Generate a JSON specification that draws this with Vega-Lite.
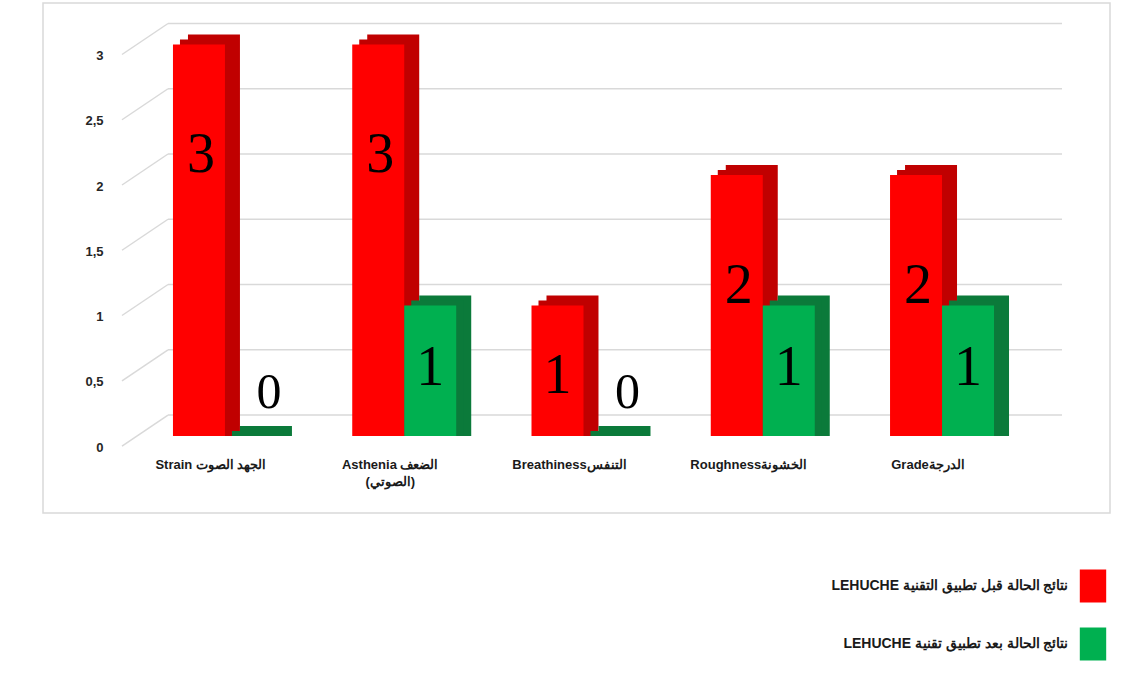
{
  "$schema": "https://vega.github.io/schema/vega-lite/v6.json",
  "width": 1067,
  "height": 510,
  "autosize": {"type": "none"},
  "padding": {"left": 43, "top": 3, "right": 35, "bottom": 162},
  "background": "white",
  "config": {
    "view": {"stroke": "#d9d9d9", "strokeWidth": 1.5},
    "font": "Liberation Sans"
  },
  "datasets": {
    "scores": [
      {"cat": "Strain الجهد الصوت", "phase": "LEHUCHE نتائج الحالة قبل تطبيق التقنية", "v": 3},
      {"cat": "Strain الجهد الصوت", "phase": "LEHUCHE نتائج الحالة بعد تطبيق تقنية", "v": 0},
      {"cat": "Asthenia الضعف|(الصوتي)", "phase": "LEHUCHE نتائج الحالة قبل تطبيق التقنية", "v": 3},
      {"cat": "Asthenia الضعف|(الصوتي)", "phase": "LEHUCHE نتائج الحالة بعد تطبيق تقنية", "v": 1},
      {"cat": "Breathinessالتنفس", "phase": "LEHUCHE نتائج الحالة قبل تطبيق التقنية", "v": 1},
      {"cat": "Breathinessالتنفس", "phase": "LEHUCHE نتائج الحالة بعد تطبيق تقنية", "v": 0},
      {"cat": "Roughnessالخشونة", "phase": "LEHUCHE نتائج الحالة قبل تطبيق التقنية", "v": 2},
      {"cat": "Roughnessالخشونة", "phase": "LEHUCHE نتائج الحالة بعد تطبيق تقنية", "v": 1},
      {"cat": "Gradeالدرجة", "phase": "LEHUCHE نتائج الحالة قبل تطبيق التقنية", "v": 2},
      {"cat": "Gradeالدرجة", "phase": "LEHUCHE نتائج الحالة بعد تطبيق تقنية", "v": 1}
    ],
    "grid": [
      {"v": 0}, {"v": 0.5}, {"v": 1}, {"v": 1.5}, {"v": 2}, {"v": 2.5}, {"v": 3}
    ]
  },
  "encoding": {
    "y": {
      "field": "v",
      "type": "quantitative",
      "scale": {"domain": [-0.59, 3.318], "nice": false, "zero": false},
      "axis": {
        "title": null,
        "values": [0, 0.5, 1, 1.5, 2, 2.5, 3],
        "grid": false,
        "domain": false,
        "ticks": false,
        "offset": -79,
        "labelPadding": 19,
        "labelOffset": 11,
        "labelExpr": "replace(format(datum.value, '~g'), '.', ',')",
        "labelFont": "Liberation Sans",
        "labelFontWeight": "bold",
        "labelFontSize": 13,
        "labelColor": "#262626"
      }
    }
  },
  "layer": [
    {
      "data": {"name": "grid"},
      "mark": {"type": "rule", "color": "#d9d9d9", "strokeWidth": 1.5, "xOffset": 125, "x2Offset": -48, "yOffset": -21},
      "encoding": {
        "x": {"value": 0},
        "x2": {"value": {"expr": "width"}}
      }
    },
    {
      "data": {"name": "grid"},
      "mark": {"type": "rule", "color": "#d9d9d9", "strokeWidth": 1.5, "xOffset": 79, "x2Offset": 125, "yOffset": 10, "y2Offset": -21},
      "encoding": {
        "x": {"value": 0},
        "x2": {"value": 0},
        "y2": {"field": "v"}
      }
    },
    {
      "data": {"name": "scores"},
      "encoding": {
        "x": {
          "field": "cat",
          "type": "nominal",
          "sort": null,
          "scale": {"paddingInner": 0, "paddingOuter": 0.476, "align": 0.541},
          "axis": {
            "title": null,
            "domain": false,
            "ticks": false,
            "offset": -60,
            "labelPadding": 5,
            "labelOffset": -14,
            "labelAngle": 0,
            "labelBaseline": "top",
            "labelLineHeight": 17,
            "labelLimit": 220,
            "labelExpr": "split(datum.label, '|')",
            "labelFont": "Liberation Sans",
            "labelFontWeight": "bold",
            "labelFontSize": 13,
            "labelColor": "#1a1a1a"
          }
        }
      },
      "layer": [
        {
          "transform": [{"filter": "indexof(datum.phase, 'قبل') >= 0"}],
          "mark": {"type": "bar", "color": "#C00000", "width": {"band": 0.29}, "xOffset": -11, "yOffset": -10, "y2Offset": 0},
          "encoding": {"y2": {"datum": 0}}
        },
        {
          "transform": [{"filter": "indexof(datum.phase, 'قبل') >= 0"}],
          "mark": {"type": "bar", "color": "#C00000", "width": {"band": 0.29}, "xOffset": -19, "yOffset": -5, "y2Offset": 0},
          "encoding": {"y2": {"datum": 0}}
        },
        {
          "transform": [{"filter": "indexof(datum.phase, 'بعد') >= 0"}],
          "mark": {"type": "bar", "color": "#0B7A3A", "width": {"band": 0.29}, "xOffset": 41, "yOffset": -10, "y2Offset": 0},
          "encoding": {"y2": {"datum": 0}}
        },
        {
          "transform": [{"filter": "indexof(datum.phase, 'بعد') >= 0"}],
          "mark": {"type": "bar", "color": "#0B7A3A", "width": {"band": 0.29}, "xOffset": 33, "yOffset": -5, "y2Offset": 0},
          "encoding": {"y2": {"datum": 0}}
        },
        {
          "transform": [{"filter": "indexof(datum.phase, 'قبل') >= 0"}],
          "mark": {"type": "bar", "width": {"band": 0.29}, "xOffset": -26},
          "encoding": {
            "y2": {"datum": 0},
            "color": {
              "field": "phase",
              "type": "nominal",
              "scale": {
                "domain": ["LEHUCHE نتائج الحالة قبل تطبيق التقنية", "LEHUCHE نتائج الحالة بعد تطبيق تقنية"],
                "range": ["#FF0000", "#00B050"]
              },
              "legend": {
                "title": null,
                "orient": "none",
                "legendX": 1033.5,
                "legendY": 566.5,
                "padding": 0,
                "symbolType": "M-0.8,-1H0.8V1H-0.8Z",
                "symbolSize": 1089,
                "symbolStrokeWidth": 0,
                "symbolOpacity": 1,
                "labelAlign": "right",
                "labelOffset": -41,
                "labelFont": "Liberation Sans",
                "labelFontSize": 14,
                "labelFontWeight": "bold",
                "labelColor": "#1a1a1a",
                "labelLimit": 400,
                "rowPadding": 25
              }
            }
          }
        },
        {
          "transform": [{"filter": "indexof(datum.phase, 'بعد') >= 0"}],
          "mark": {"type": "bar", "width": {"band": 0.29}, "xOffset": 26},
          "encoding": {
            "y2": {"datum": 0},
            "color": {
              "field": "phase",
              "type": "nominal",
              "scale": {
                "domain": ["LEHUCHE نتائج الحالة قبل تطبيق التقنية", "LEHUCHE نتائج الحالة بعد تطبيق تقنية"],
                "range": ["#FF0000", "#00B050"]
              },
              "legend": {
                "title": null,
                "orient": "none",
                "legendX": 1033.5,
                "legendY": 566.5,
                "padding": 0,
                "symbolType": "M-0.8,-1H0.8V1H-0.8Z",
                "symbolSize": 1089,
                "symbolStrokeWidth": 0,
                "symbolOpacity": 1,
                "labelAlign": "right",
                "labelOffset": -41,
                "labelFont": "Liberation Sans",
                "labelFontSize": 14,
                "labelFontWeight": "bold",
                "labelColor": "#1a1a1a",
                "labelLimit": 400,
                "rowPadding": 25
              }
            }
          }
        },
        {
          "transform": [{"filter": "indexof(datum.phase, 'قبل') >= 0 && datum.v >= 2"}],
          "mark": {"type": "text", "font": "Liberation Serif", "fontSize": 56, "baseline": "middle", "color": "#000000", "dx": -24, "dy": 111},
          "encoding": {"text": {"field": "v", "type": "quantitative"}}
        },
        {
          "transform": [{"filter": "indexof(datum.phase, 'قبل') >= 0 && datum.v == 1"}],
          "mark": {"type": "text", "font": "Liberation Serif", "fontSize": 56, "baseline": "middle", "color": "#000000", "dx": -26, "dy": 70},
          "encoding": {"text": {"field": "v", "type": "quantitative"}}
        },
        {
          "transform": [{"filter": "indexof(datum.phase, 'بعد') >= 0 && datum.v == 1"}],
          "mark": {"type": "text", "font": "Liberation Serif", "fontSize": 56, "baseline": "middle", "color": "#000000", "dx": 26, "dy": 62},
          "encoding": {"text": {"field": "v", "type": "quantitative"}}
        },
        {
          "transform": [{"filter": "indexof(datum.phase, 'بعد') >= 0 && datum.v == 0"}],
          "mark": {"type": "text", "font": "Liberation Serif", "fontSize": 50, "baseline": "middle", "color": "#000000", "dx": 44, "dy": -43},
          "encoding": {"text": {"field": "v", "type": "quantitative"}}
        }
      ]
    }
  ]
}
